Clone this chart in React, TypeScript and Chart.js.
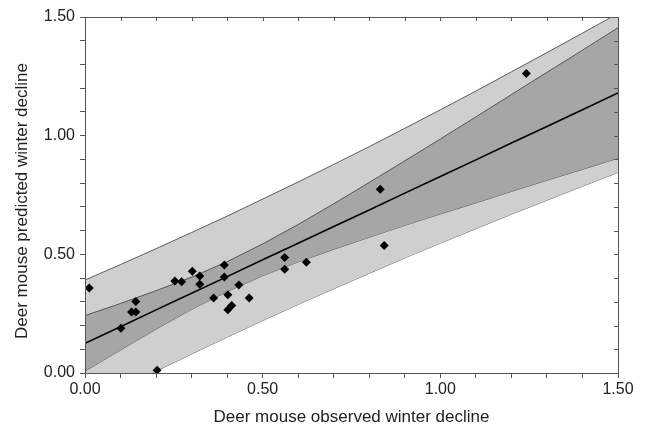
import React, { useEffect, useRef } from 'react';
import Chart from 'chart.js/auto';

// Band / fit values at x = 0 .. 1.5
const bandX = [0, 0.1, 0.2, 0.3, 0.4, 0.5, 0.6, 0.7, 0.8, 0.9, 1.0, 1.1, 1.2, 1.3, 1.4, 1.5];
const fitLine = [0.125, 0.195, 0.266, 0.336, 0.406, 0.477, 0.547, 0.617, 0.687, 0.758, 0.828, 0.898, 0.969, 1.039, 1.109, 1.18];
const confUpper = [0.242, 0.293, 0.347, 0.404, 0.469, 0.544, 0.626, 0.713, 0.803, 0.894, 0.986, 1.079, 1.173, 1.267, 1.36, 1.455];
const confLower = [0.008, 0.097, 0.185, 0.268, 0.343, 0.41, 0.468, 0.521, 0.572, 0.622, 0.67, 0.717, 0.765, 0.812, 0.858, 0.905];
const predUpper = [0.392, 0.457, 0.524, 0.592, 0.661, 0.733, 0.805, 0.879, 0.954, 1.031, 1.109, 1.188, 1.269, 1.35, 1.432, 1.515];
const predLower = [-0.142, -0.067, 0.008, 0.08, 0.151, 0.221, 0.289, 0.355, 0.42, 0.485, 0.547, 0.608, 0.669, 0.728, 0.787, 0.845];

// Observed vs predicted points
const observed = [0.012, 0.101, 0.131, 0.143, 0.143, 0.203, 0.253, 0.272, 0.302, 0.323, 0.323, 0.362, 0.392, 0.392, 0.402, 0.402, 0.413, 0.433, 0.462, 0.562, 0.562, 0.623, 0.831, 0.842, 1.242];
const predicted = [0.358, 0.189, 0.257, 0.257, 0.301, 0.012, 0.388, 0.385, 0.429, 0.409, 0.374, 0.316, 0.455, 0.405, 0.33, 0.267, 0.284, 0.371, 0.316, 0.487, 0.437, 0.467, 0.774, 0.537, 1.262];

const majorTicks = [0, 0.5, 1.0, 1.5];

const xTitle = 'Deer mouse observed winter decline';
const yTitle = 'Deer mouse predicted winter decline';

const FAMILY = '"Liberation Sans", Arial, sans-serif';

const toPts = (ys: number[]) => bandX.map((x, i) => ({ x, y: ys[i] }));

const tickLabel = (v: any) => {
  const n = Number(v);
  return majorTicks.some((m) => Math.abs(m - n) < 1e-6) ? n.toFixed(2) : '';
};

const framePlugin = {
  id: 'frame',
  afterDatasetsDraw(chart: any) {
    const { ctx, chartArea, scales } = chart;
    const { left, right, top, bottom } = chartArea;
    ctx.save();
    ctx.strokeStyle = '#555';
    ctx.lineWidth = 1;
    ctx.strokeRect(Math.round(left) + 0.5, Math.round(top) + 0.5, Math.round(right - left), Math.round(bottom - top));
    ctx.beginPath();
    scales.x.ticks.forEach((t: any) => {
      const px = Math.round(scales.x.getPixelForValue(t.value)) + 0.5;
      ctx.moveTo(px, top);
      ctx.lineTo(px, top + 4);
    });
    scales.y.ticks.forEach((t: any) => {
      const py = Math.round(scales.y.getPixelForValue(t.value)) + 0.5;
      ctx.moveTo(right, py);
      ctx.lineTo(right - 4, py);
    });
    ctx.stroke();
    ctx.restore();
  },
  afterDraw(chart: any) {
    const { ctx } = chart;
    ctx.save();
    ctx.translate(22, 201);
    ctx.rotate(-Math.PI / 2);
    ctx.font = `17px ${FAMILY}`;
    ctx.fillStyle = '#222';
    ctx.textAlign = 'center';
    ctx.textBaseline = 'middle';
    ctx.fillText(yTitle, 0, 0);
    ctx.restore();
  },
};

export default function App() {
  const ref = useRef<HTMLCanvasElement | null>(null);

  useEffect(() => {
    document.body.style.margin = '0';
    const canvas = ref.current;
    if (!canvas) return;
    const tickFont = { family: FAMILY, size: 16 };
    const titleFont = { family: FAMILY, size: 17 };
    const outline = '#3a3a3a';
    const chart = new Chart(canvas, {
      type: 'line',
      data: {
        datasets: [
          {
            data: toPts(predUpper),
            borderColor: outline,
            borderWidth: 0.8,
            backgroundColor: '#cfcfcf',
            fill: '+1',
            pointRadius: 0,
            order: 4,
          },
          {
            data: toPts(predLower),
            borderColor: outline,
            borderWidth: 0.8,
            fill: false,
            pointRadius: 0,
            order: 4,
          },
          {
            data: toPts(confUpper),
            borderColor: outline,
            borderWidth: 0.8,
            backgroundColor: '#a6a6a6',
            fill: '+1',
            pointRadius: 0,
            order: 3,
          },
          {
            data: toPts(confLower),
            borderColor: outline,
            borderWidth: 0.8,
            fill: false,
            pointRadius: 0,
            order: 3,
          },
          {
            data: toPts(fitLine),
            borderColor: '#000',
            borderWidth: 1.6,
            fill: false,
            pointRadius: 0,
            order: 2,
          },
          {
            data: observed.map((x, i) => ({ x, y: predicted[i] })),
            showLine: false,
            pointStyle: 'rectRot',
            pointRadius: 4.5,
            pointBackgroundColor: '#000',
            pointBorderColor: '#000',
            pointBorderWidth: 0,
            fill: false,
            order: 1,
          },
        ],
      },
      options: {
        responsive: false,
        animation: false,
        events: [],
        layout: { padding: { left: 0, top: 17, right: 30, bottom: 0 } },
        plugins: { legend: { display: false }, tooltip: { enabled: false } },
        scales: {
          x: {
            type: 'linear',
            min: 0,
            max: 1.5,
            afterFit: (s: any) => {
              s.height = 56;
            },
            ticks: {
              stepSize: 0.1,
              autoSkip: false,
              maxRotation: 0,
              callback: tickLabel,
              font: tickFont,
              color: '#222',
              padding: 2,
            },
            grid: { drawOnChartArea: false, drawTicks: true, tickLength: 5, color: '#555' },
            border: { display: true, color: '#555' },
            title: { display: true, text: xTitle, font: titleFont, color: '#222', padding: { top: 2, bottom: 1 } },
          },
          y: {
            type: 'linear',
            min: 0,
            max: 1.5,
            afterFit: (s: any) => {
              s.width = 85;
            },
            ticks: {
              stepSize: 0.1,
              autoSkip: false,
              callback: tickLabel,
              font: tickFont,
              color: '#222',
              padding: 5,
            },
            grid: { drawOnChartArea: false, drawTicks: true, tickLength: 5, color: '#555' },
            border: { display: true, color: '#555' },
            title: { display: false },
          },
        },
      },
      plugins: [framePlugin],
    } as any);
    return () => chart.destroy();
  }, []);

  return (
    <div style={{ width: 648, height: 429, position: 'relative' }}>
      <canvas ref={ref} width={648} height={429} style={{ display: 'block' }} />
    </div>
  );
}
